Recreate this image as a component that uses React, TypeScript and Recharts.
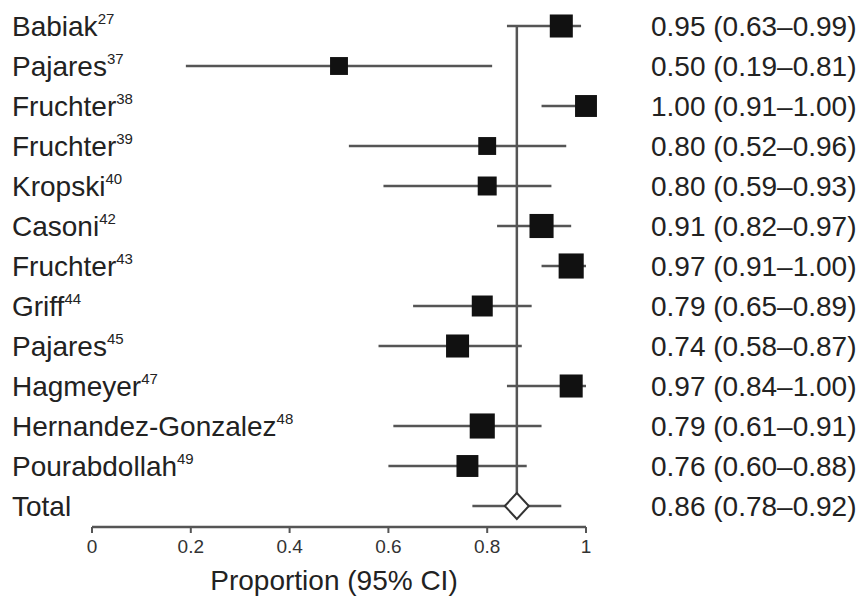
import React from 'react';
import {
  ScatterChart, Scatter, XAxis, YAxis, ErrorBar, ReferenceLine, Label
} from 'recharts';

// study rows, top to bottom
const studies = [
  'Babiak', 'Pajares', 'Fruchter', 'Fruchter', 'Kropski', 'Casoni',
  'Fruchter', 'Griff', 'Pajares', 'Hagmeyer', 'Hernandez-Gonzalez', 'Pourabdollah'
];
const refs = ['27', '37', '38', '39', '40', '42', '43', '44', '45', '47', '48', '49'];
const estimates = [0.95, 0.50, 1.00, 0.80, 0.80, 0.91, 0.97, 0.79, 0.74, 0.97, 0.79, 0.76];
const lower = [0.84, 0.19, 0.91, 0.52, 0.59, 0.82, 0.91, 0.65, 0.58, 0.84, 0.61, 0.60];
const upper = [0.99, 0.81, 1.00, 0.96, 0.93, 0.97, 1.00, 0.89, 0.87, 1.00, 0.91, 0.88];
const weights = [5.3, 3.2, 4.8, 3.2, 3.6, 5.8, 6.3, 4.4, 5.3, 5.3, 6.3, 4.8];
const ciLabels = [
  '0.95 (0.63–0.99)', '0.50 (0.19–0.81)', '1.00 (0.91–1.00)', '0.80 (0.52–0.96)',
  '0.80 (0.59–0.93)', '0.91 (0.82–0.97)', '0.97 (0.91–1.00)', '0.79 (0.65–0.89)',
  '0.74 (0.58–0.87)', '0.97 (0.84–1.00)', '0.79 (0.61–0.91)', '0.76 (0.60–0.88)'
];

// pooled estimate
const totalLabel = 'Total';
const totalEstimate = 0.86;
const totalLower = 0.77;
const totalUpper = 0.95;
const totalCiLabel = '0.86 (0.78–0.92)';

const xTicks = [0, 0.2, 0.4, 0.6, 0.8, 1];

const studyData = studies.map((name, i) => ({
  name, ref: refs[i], x: estimates[i], y: i,
  err: [estimates[i] - lower[i], upper[i] - estimates[i]], weight: weights[i]
}));
const totalRow = studies.length;
const totalData = [{
  name: totalLabel, x: totalEstimate, y: totalRow,
  err: [totalEstimate - totalLower, totalUpper - totalEstimate]
}];
const rowTicks = [...studies.map((_, i) => i), totalRow];

const FONT = '"Liberation Sans", Arial, Helvetica, sans-serif';
const TEXT = '#222';
const LINE = '#555';

const StudySquare = (props: any) => {
  const { cx, cy, payload } = props;
  const s = 10 * Math.sqrt(payload.weight);
  return <rect x={cx - s / 2} y={cy - s / 2} width={s} height={s} fill="#111" />;
};

const Diamond = (props: any) => {
  const { cx, cy } = props;
  const w = 12, h = 13;
  return (
    <polygon
      points={`${cx - w},${cy} ${cx},${cy - h} ${cx + w},${cy} ${cx},${cy + h}`}
      fill="#fff" stroke="#333" strokeWidth={2}
    />
  );
};

const RowLabel = (props: any) => {
  const { y, payload } = props;
  const i = payload.value;
  const isTotal = i === totalRow;
  return (
    <g>
      <text x={12} y={y + 10} fontSize={28} textAnchor="start" fontFamily={FONT} fill={TEXT}>
        {isTotal ? totalLabel : studies[i]}
        {!isTotal && <tspan fontSize={15} dy={-12}>{refs[i]}</tspan>}
      </text>
      <text x={651} y={y + 10} fontSize={28} textAnchor="start" fontFamily={FONT} fill={TEXT}>
        {isTotal ? totalCiLabel : ciLabels[i]}
      </text>
    </g>
  );
};

export default function App() {
  return (
    <div style={{ position: 'absolute', left: 0, top: 0, background: '#fff' }}>
      <ScatterChart width={866} height={596} margin={{ top: 7, right: 280, bottom: 0, left: 91 }}>
        <XAxis
          type="number"
          dataKey="x"
          domain={[0, 1]}
          ticks={xTicks}
          tickFormatter={(v: number) => String(v)}
          height={69}
          axisLine={{ stroke: '#555', strokeWidth: 2.5 }}
          tickLine={{ stroke: '#555', strokeWidth: 2 }}
          tickSize={6}
          tickMargin={7}
          tick={{ fill: '#333', fontSize: 19, fontFamily: FONT }}
        >
          <Label value="Proportion (95% CI)" position="insideBottom" offset={6}
            fill={TEXT} fontSize={28} fontFamily={FONT} dx={-5} />
        </XAxis>
        <YAxis
          type="number"
          dataKey="y"
          domain={[-0.475, 12.525]}
          reversed
          ticks={rowTicks}
          interval={0}
          width={1}
          axisLine={false}
          tickLine={false}
          tick={(p: any) => <RowLabel {...p} />}
        />
        <ReferenceLine
          segment={[{ x: totalEstimate, y: 0 }, { x: totalEstimate, y: totalRow }]}
          stroke={LINE}
          strokeWidth={2.5}
        />
        <Scatter data={studyData} shape={<StudySquare />} isAnimationActive={false}>
          <ErrorBar dataKey="err" direction="x" width={0} stroke={LINE} strokeWidth={2.5} isAnimationActive={false} />
        </Scatter>
        <Scatter data={totalData} shape={<Diamond />} isAnimationActive={false}>
          <ErrorBar dataKey="err" direction="x" width={0} stroke={LINE} strokeWidth={2.5} isAnimationActive={false} />
        </Scatter>
      </ScatterChart>
    </div>
  );
}
